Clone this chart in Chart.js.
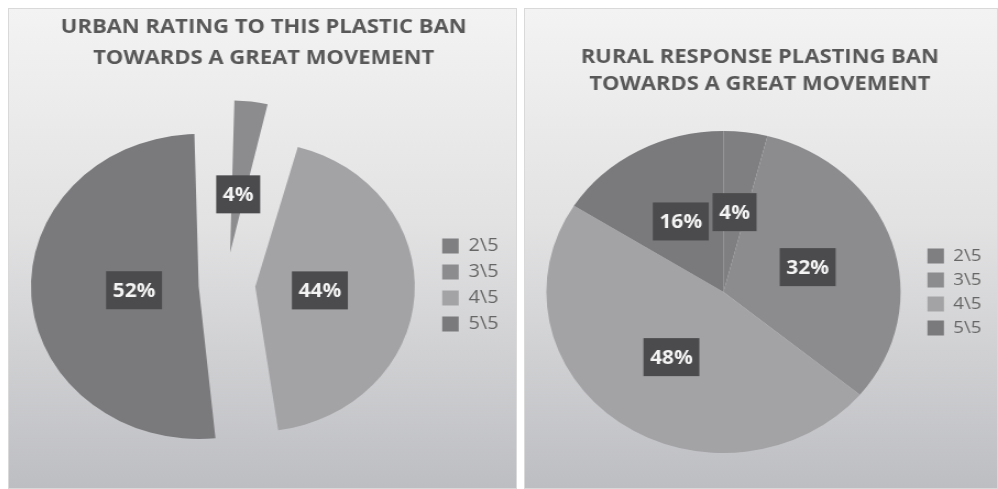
<!DOCTYPE html>
<html>
<head>
<meta charset="utf-8">
<script src="https://cdn.jsdelivr.net/npm/chart.js@4.4.1/dist/chart.umd.min.js"></script>
<style>
body { margin: 0; width: 998px; height: 489px; background: #fff; position: relative; overflow: hidden; }
.panel { position: absolute; top: 8px; height: 481px; overflow: hidden; box-sizing: border-box;
  background: linear-gradient(#f3f3f3, #e2e2e3 45%, #bdbec2); border: 1px solid #d9d9d9; }
#p1 { left: 8px; width: 509px; }
#p2 { left: 524px; width: 474px; }
/* the original charts are a bit wider than tall, so stretch them */
.stretch { position: absolute; left: 0; top: 0; height: 479px; transform: scaleX(1.1); transform-origin: 0 0; }
#p1 .stretch { width: 462px; }
#p2 .stretch { width: 430px; }
</style>
</head>
<body>
<div class="panel" id="p1"><div class="stretch"><canvas id="urban"></canvas></div></div>
<div class="panel" id="p2"><div class="stretch"><canvas id="rural"></canvas></div></div>
<script>
const legendLabels = ['2\\5', '3\\5', '4\\5', '5\\5'];
const urbanValues = [0, 4, 44, 52];
const ruralValues = [4, 32, 48, 16];
const sliceColors = ['#7f7f82', '#8c8c8f', '#a3a3a6', '#7a7a7d'];
const urbanTitle = ['URBAN RATING TO THIS PLASTIC BAN', 'TOWARDS A GREAT MOVEMENT'];
const ruralTitle = ['RURAL RESPONSE PLASTING BAN', 'TOWARDS A GREAT MOVEMENT'];

// dark boxes with the percentage, placed inside each slice
const boxLabels = {
  id: 'boxLabels',
  afterDatasetsDraw(chart, args, opts) {
    const ctx = chart.ctx;
    const meta = chart.getDatasetMeta(0);
    const values = chart.data.datasets[0].data;
    ctx.save();
    ctx.font = 'bold 19px "Open Sans"';
    ctx.textAlign = 'center';
    ctx.textBaseline = 'middle';
    meta.data.forEach((arc, i) => {
      if (!values[i]) return;
      const p = arc.getProps(['x', 'y', 'startAngle', 'endAngle', 'outerRadius'], true);
      // the arc element moves an exploded slice by offset / 4
      const shift = (arc.options.offset || 0) / 4;
      const mid = (p.startAngle + p.endAngle) / 2;
      const d = shift + p.outerRadius * opts.frac;
      const cx = p.x + Math.cos(mid) * d;
      const cy = p.y + Math.sin(mid) * d;
      const txt = values[i] + '%';
      const w = ctx.measureText(txt).width + 12;
      ctx.fillStyle = '#4b4b4d';
      ctx.fillRect(cx - w / 2, cy - 19, w, 38);
      ctx.fillStyle = '#f4f4f4';
      ctx.fillText(txt, cx, cy + 1);
    });
    ctx.restore();
  }
};

function makePie(id, title, values, s) {
  return new Chart(document.getElementById(id), {
    type: 'pie',
    data: {
      labels: legendLabels,
      datasets: [{
        data: values,
        backgroundColor: sliceColors,
        borderWidth: 0,
        offset: s.offset,
        radius: s.radius
      }]
    },
    options: {
      responsive: true,
      maintainAspectRatio: false,
      animation: false,
      events: [],
      layout: { padding: s.padding },
      plugins: {
        title: {
          display: true,
          text: title,
          color: '#585858',
          font: { family: '"Open Sans"', size: 20, weight: 'bold', lineHeight: s.titleLine },
          padding: s.titlePad
        },
        legend: {
          position: 'right',
          fullSize: false,
          labels: {
            color: '#666',
            boxWidth: 15,
            boxHeight: 15,
            padding: s.legendPad,
            font: { family: '"Open Sans"', size: s.legendFont }
          }
        },
        tooltip: { enabled: false },
        boxLabels: { frac: s.frac }
      }
    },
    plugins: [boxLabels]
  });
}

makePie('urban', urbanTitle, urbanValues, {
  offset: [0, 130, 108, 98],
  radius: 128,
  padding: { left: 8, right: 7, top: 0, bottom: 2 },
  titleLine: 1.55,
  titlePad: { top: 3, bottom: 10 },
  legendPad: 8,
  legendFont: 18,
  frac: 0.46
});

makePie('rural', ruralTitle, ruralValues, {
  offset: 0,
  radius: 161,
  padding: { left: 2, right: 5, top: 0, bottom: 7 },
  titleLine: 1.35,
  titlePad: { top: 35, bottom: 5 },
  legendPad: 7,
  legendFont: 17,
  frac: 0.5
});
</script>
</body>
</html>
